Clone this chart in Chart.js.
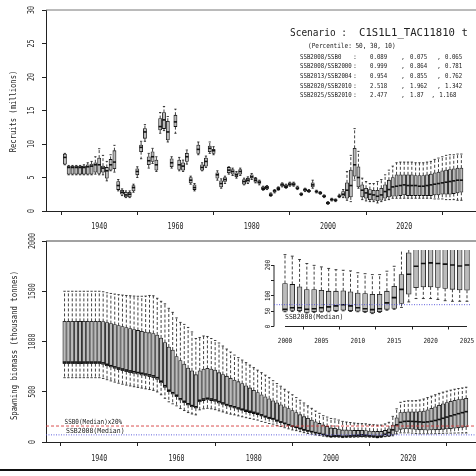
<!DOCTYPE html>
<html><head><meta charset="utf-8">
<script src="https://cdn.jsdelivr.net/npm/chart.js"></script>
<style>
html,body{margin:0;padding:0;background:#fff;overflow:hidden}
#wrap{position:relative;width:476px;height:476px;overflow:hidden;background:#fff}
canvas{position:absolute;display:block}
#bline{position:absolute;left:0;top:469px;width:476px;height:2px;background:#111}
</style></head><body>
<div id="wrap">
<canvas id="top" width="480" height="236" style="left:0;top:0;width:480px;height:236px"></canvas>
<canvas id="bot" width="480" height="236" style="left:0;top:230px;width:480px;height:236px"></canvas>
<canvas id="ins" width="236" height="110" style="left:244px;top:244px;width:236px;height:110px"></canvas>
<div id="bline"></div>
</div>
<script>
// ---------------- data ----------------
const years = [
1931,1932,1933,1934,1935,1936,1937,1938,1939,1940,
1941,1942,1943,1944,1945,1946,1947,1948,1949,1950,
1951,1952,1953,1954,1955,1956,1957,1958,1959,1960,
1961,1962,1963,1964,1965,1966,1967,1968,1969,1970,
1971,1972,1973,1974,1975,1976,1977,1978,1979,1980,
1981,1982,1983,1984,1985,1986,1987,1988,1989,1990,
1991,1992,1993,1994,1995,1996,1997,1998,1999,2000,
2001,2002,2003,2004,2005,2006,2007,2008,2009,2010,
2011,2012,2013,2014,2015,2016,2017,2018,2019,2020,
2021,2022,2023,2024,2025,2026,2027,2028,2029,2030,
2031,2032,2033,2034,2035];

// Recruits (millions): whisker low, box low, median, box high, whisker high
const recMin = [
6.9,5.4,5.4,5.4,5.4,5.4,5.4,5.4,5.5,5.4,
5.4,4.5,6.0,5.8,3.0,2.3,2.0,2.0,2.8,5.0,
7.8,10.4,6.4,7.1,5.9,11.6,12.0,10.3,6.4,11.6,
6.0,5.9,7.0,4.0,3.0,8.4,6.0,6.5,8.6,8.4,
4.6,3.4,4.1,5.5,5.3,4.9,5.3,3.9,4.1,4.7,
4.2,3.9,3.1,3.2,2.2,2.7,3.1,3.6,3.4,3.7,
3.7,3.2,2.3,2.9,2.8,3.4,2.7,2.5,2.0,1.0,
1.5,1.4,2.0,2.0,1.6,1.4,4.6,3.4,1.7,1.5,
1.4,1.4,1.2,1.4,1.6,1.7,1.9,1.9,1.9,1.9,
1.9,1.9,1.9,1.9,1.9,1.9,1.9,1.8,1.8,1.8,
1.7,1.7,1.7,1.6,1.6];
const recQ1 = [
7.0,5.5,5.5,5.5,5.5,5.5,5.5,5.5,5.8,5.6,
5.8,4.9,6.1,6.3,3.2,2.5,2.1,2.1,3.0,5.4,
8.85,10.85,6.9,7.4,6.1,12.1,12.3,10.6,6.6,12.6,
6.2,6.1,7.4,4.2,3.2,8.6,6.1,6.7,8.85,8.6,
4.9,3.6,4.4,5.7,5.5,5.1,5.5,4.0,4.3,4.9,
4.3,4.1,3.2,3.3,2.3,2.8,3.2,3.7,3.5,3.8,
3.8,3.3,2.4,3.0,2.9,3.6,2.8,2.6,2.1,1.1,
1.6,1.5,2.1,2.2,1.9,2.1,5.2,3.6,2.1,1.9,
1.7,1.6,1.5,1.6,1.9,2.1,2.2,2.2,2.3,2.4,
2.3,2.3,2.3,2.3,2.3,2.3,2.3,2.4,2.4,2.5,
2.5,2.5,2.6,2.7,2.8];
const recMed = [
8.0,6.5,6.5,6.5,6.5,6.5,6.6,6.7,6.9,6.9,
6.4,6.0,6.9,7.3,3.8,2.8,2.4,2.5,3.5,5.9,
9.5,11.8,7.5,8.1,6.9,12.6,13.6,11.8,7.2,13.3,
6.9,6.7,8.1,4.6,3.5,9.2,6.5,7.4,9.35,9.0,
5.4,4.1,4.7,6.1,5.9,5.4,5.9,4.4,4.6,5.1,
4.6,4.3,3.4,3.5,2.4,3.0,3.4,3.9,3.7,4.0,
4.0,3.4,2.5,3.2,3.0,3.9,2.9,2.7,2.2,1.2,
1.7,1.6,2.2,2.5,3.1,3.8,6.9,5.0,3.1,2.7,
2.5,2.4,2.2,2.4,2.9,3.2,3.6,3.7,3.8,3.9,
3.8,3.8,3.8,3.7,3.7,3.8,3.9,4.0,4.1,4.2,
4.3,4.4,4.5,4.6,4.6];
const recQ3 = [
8.5,6.7,6.7,6.7,6.7,6.7,6.9,7.0,7.2,7.9,
6.7,6.5,7.7,9.0,4.4,3.1,2.8,2.8,3.8,6.3,
9.85,12.3,8.1,8.85,7.6,13.8,14.7,13.4,7.8,14.3,
7.6,7.2,8.6,5.0,3.9,9.85,6.9,7.9,9.7,9.2,
5.7,4.5,5.0,6.5,6.2,5.7,6.2,4.7,4.9,5.4,
4.9,4.5,3.6,3.7,2.6,3.1,3.5,4.1,3.9,4.2,
4.2,3.6,2.6,3.3,3.1,4.2,3.0,2.8,2.3,1.3,
1.8,1.7,2.3,2.9,4.2,6.1,9.35,6.6,3.9,3.4,
3.2,3.1,3.1,3.4,3.9,4.6,5.0,5.4,5.4,5.4,
5.4,5.4,5.3,5.3,5.3,5.4,5.5,5.7,5.8,6.0,
6.1,6.2,6.3,6.4,6.4];
const recMax = [
8.6,6.8,6.8,6.8,6.8,6.9,7.2,7.4,8.1,9.3,
8.3,7.4,8.4,9.8,4.7,3.3,3.0,3.0,4.0,6.6,
10.4,12.9,8.6,9.35,8.1,14.7,15.6,14.1,8.1,15.2,
8.0,7.6,9.1,5.2,4.1,10.3,7.2,8.2,10.3,9.6,
6.0,4.8,5.2,6.6,6.4,5.9,6.4,4.9,5.1,5.6,
5.0,4.6,3.7,3.8,2.7,3.2,3.6,4.2,4.0,4.3,
4.3,3.7,2.7,3.4,3.2,4.6,3.1,2.9,2.4,1.4,
1.9,1.8,2.5,3.2,5.9,8.3,12.3,8.9,4.9,4.4,
4.1,4.1,4.4,4.7,5.4,6.1,6.7,7.2,7.3,7.3,
7.3,7.3,7.2,7.2,7.2,7.3,7.4,7.7,7.9,8.1,
8.3,8.4,8.4,8.5,8.5];

// Spawning biomass (thousand tonnes)
const ssbMin = [
640,640,640,640,640,640,640,640,640,640,
632,620,608,596,585,575,566,558,550,543,
536,529,522,514,498,470,435,400,380,360,
333,313,293,279,270,320,330,335,330,322,
310,299,287,277,270,260,251,242,234,226,
218,205,195,184,178,165,154,142,131,120,
113,103,93,85,78,70,64,58,52,48,
49,48,44,46,47,48,49,51,49,48,
46,42,46,53,56,62,80,91,91,91,
88,84,82,82,82,82,83,85,86,88,
88,89,90,90,90];
const ssbQ1 = [
780,780,780,780,780,780,780,780,780,780,
772,758,744,732,720,710,700,690,682,674,
666,658,650,640,622,588,544,500,475,450,
416,391,366,349,337,400,412,419,412,403,
387,374,358,346,337,325,314,303,293,283,
273,258,245,232,224,206,193,178,164,150,
140,128,116,106,97,88,80,70,58,50,
52,51,46,48,49,50,51,53,51,50,
48,44,48,56,59,75,105,126,129,129,
127,124,121,119,118,119,121,123,126,129,
133,137,141,146,150];
const ssbMed = [
795,795,795,795,795,795,795,795,795,795,
787,773,759,747,736,726,716,707,699,691,
684,676,668,658,640,605,560,515,490,465,
430,405,380,362,350,415,428,435,428,418,
402,388,372,360,350,338,326,315,305,295,
285,270,255,242,232,215,200,186,172,158,
147,135,122,112,103,93,85,75,63,56,
61,61,56,58,61,64,67,71,67,61,
58,55,58,77,94,121,170,196,205,207,
205,203,200,197,200,206,214,224,236,248,
260,271,282,292,302];
const ssbQ3 = [
1200,1200,1200,1200,1200,1200,1200,1200,1200,1200,
1198,1188,1178,1168,1158,1148,1138,1128,1119,1110,
1102,1094,1088,1080,1065,1035,990,945,915,850,
810,775,735,708,670,708,725,733,725,715,
690,672,655,635,617,600,582,560,538,515,
492,470,450,430,410,390,370,350,332,312,
292,272,252,235,218,200,185,170,155,140,
137,129,120,120,118,115,115,116,113,109,
107,105,105,115,131,169,240,292,298,300,
300,300,302,308,320,335,350,365,380,393,
404,414,422,428,435];
const ssbMax = [
1500,1500,1500,1500,1500,1500,1500,1500,1500,1500,
1495,1485,1478,1472,1466,1462,1458,1455,1452,1450,
1450,1452,1458,1455,1430,1400,1375,1330,1290,1235,
1190,1170,1140,1095,1030,1040,1055,1050,1030,1010,
985,955,925,895,865,840,815,790,765,740,
715,690,665,640,610,582,555,525,498,470,
442,415,388,360,335,308,285,262,248,234,
229,218,205,199,194,189,185,183,181,175,
172,169,169,180,196,255,330,395,405,410,
410,412,418,428,442,456,470,484,496,506,
516,525,532,538,545];

// axes ticks
const mainTicksX = [1940,1960,1980,2000,2020];
const recTicksY = [0,5,10,15,20,25,30];
const ssbTicksY = [0,500,1000,1500,2000];
const insTicksX = [2000,2005,2010,2015,2020,2025];
const insTicksY = [0,50,100,150,200];
const insLabelsY = ['0','50','100','','200'];
const insetFirst = 2000, insetLast = 2025;
const refYear = 2008;           // SSB2008 (median) reference
const refFrac = 0.2;            // SSB0 (median) x 20%

// scenario / ratio text
const scenarioName = 'C1S1L1_TAC11810 t';
const ratioNames = ['SSB2008/SSB0','SSB2008/SSB2000','SSB2013/SSB2004','SSB2020/SSB2010','SSB2025/SSB2010'];
const ratioP50 = ['0.089','0.999','0.954','2.518','2.477'];
const ratioP30 = ['0.075','0.864','0.855','1.962','1.87'];
const ratioP10 = ['0.065','0.781','0.762','1.342','1.168'];

// ---------------- helpers ----------------
const MONO = '"DejaVu Sans Mono","Liberation Mono",monospace';
function txt(ctx, s, x, y, size, adv, align, rot, color, baseline) {
  ctx.save();
  ctx.font = size + 'px ' + MONO;
  ctx.fillStyle = color || '#222';
  ctx.textAlign = align || 'left';
  ctx.textBaseline = baseline || 'middle';
  ctx.translate(x, y);
  if (rot) ctx.rotate(rot);
  ctx.scale(adv / (0.6021 * size), 1);
  ctx.fillText(s, 0, 0);
  ctx.restore();
}

function boxPlugin(d) {
  return {
    id: 'boxes_' + d.id,
    afterDatasetsDraw(chart) {
      const {ctx, chartArea: a, scales: {x, y}} = chart;
      ctx.save();
      ctx.beginPath(); ctx.rect(a.left, a.top, a.right - a.left, a.bottom - a.top); ctx.clip();
      ctx.strokeStyle = '#111';
      d.years.forEach((yr, i) => {
        const px = x.getPixelForValue(yr);
        const pMin = y.getPixelForValue(d.min[i]), pQ1 = y.getPixelForValue(d.q1[i]);
        const pMed = y.getPixelForValue(d.med[i]), pQ3 = y.getPixelForValue(d.q3[i]);
        const pMax = y.getPixelForValue(d.max[i]);
        ctx.lineWidth = d.wl;
        ctx.setLineDash(d.dash);
        ctx.beginPath();
        ctx.moveTo(px, pQ3); ctx.lineTo(px, pMax);
        ctx.moveTo(px, pQ1); ctx.lineTo(px, pMin);
        ctx.stroke();
        ctx.setLineDash([]);
        const sw = d.boxW * d.staple / 2;
        ctx.beginPath();
        ctx.moveTo(px - sw, pMax); ctx.lineTo(px + sw, pMax);
        ctx.moveTo(px - sw, pMin); ctx.lineTo(px + sw, pMin);
        ctx.stroke();
        ctx.lineWidth = d.medW;
        ctx.beginPath();
        ctx.moveTo(px - d.boxW / 2, pMed); ctx.lineTo(px + d.boxW / 2, pMed);
        ctx.stroke();
      });
      ctx.restore();
    }
  };
}

function makeChart(id, d, extra) {
  const ds = {
    data: d.years.map((yr, i) => ({x: yr, y: [d.q1[i], d.q3[i]]})),
    backgroundColor: '#bcbcbc',
    borderColor: '#111',
    borderWidth: d.bw,
    borderSkipped: false,
    barThickness: d.boxW,
    clip: 0
  };
  const axisCommon = (tl) => ({
    grid: {display: true, drawOnChartArea: false, drawTicks: true, tickLength: tl, color: '#222', lineWidth: 1},
    border: {display: d.borders, color: '#222', width: 1},
    ticks: {display: false}
  });
  return new Chart(document.getElementById(id), {
    type: 'bar',
    data: {datasets: [ds]},
    options: {
      responsive: false, animation: false, events: [], devicePixelRatio: 1,
      layout: {padding: d.pad},
      plugins: {legend: {display: false}, tooltip: {enabled: false}, title: {display: false}},
      scales: {
        x: Object.assign(axisCommon(d.tl), {
          type: 'linear', min: d.xmin, max: d.xmax, offset: false,
          afterBuildTicks: s => { s.ticks = d.xticks.map(v => ({value: v})); },
          afterFit: s => { s.height = d.xh; }
        }),
        y: Object.assign(axisCommon(d.tl), {
          type: 'linear', min: d.ymin, max: d.ymax,
          afterBuildTicks: s => { s.ticks = d.yticks.map(v => ({value: v})); },
          afterFit: s => { s.width = d.yw; }
        })
      }
    },
    plugins: [boxPlugin(d), extra]
  });
}

function topLine(ctx, a, col) {
  ctx.save();
  ctx.strokeStyle = col; ctx.lineWidth = 1;
  ctx.beginPath(); ctx.moveTo(a.left, a.top); ctx.lineTo(a.right + 5, a.top); ctx.stroke();
  ctx.restore();
}

// ---------------- top panel: recruits ----------------
makeChart('top', {
  id: 'rec', years, min: recMin, q1: recQ1, med: recMed, q3: recQ3, max: recMax,
  boxW: 3.2, bw: 0.8, wl: 0.8, medW: 1.6, staple: 0.7, dash: [3, 2],
  xmin: 1926.05, xmax: 2039.1, ymin: 0, ymax: 30,
  xticks: mainTicksX, yticks: recTicksY,
  pad: {top: 10, right: 3, left: 0, bottom: 0}, xh: 25, yw: 46, tl: 4, borders: true
}, {
  id: 'recText',
  afterDraw(chart) {
    const {ctx, chartArea: a, scales: {x, y}} = chart;
    topLine(ctx, a, '#777');
    mainTicksX.forEach(v => txt(ctx, String(v), x.getPixelForValue(v), a.bottom + 16, 8, 4, 'center'));
    recTicksY.forEach(v => txt(ctx, String(v), a.left - 13.7, y.getPixelForValue(v), 8, 4, 'center', -Math.PI / 2));
    txt(ctx, 'Recruits (millions)', a.left - 32.5, (a.top + a.bottom) / 2 + 1, 8.4, 4.3, 'center', -Math.PI / 2);
    // scenario block
    txt(ctx, 'Scenario :', 290, 33.5, 11, 5.7, 'left');
    txt(ctx, scenarioName, 359, 33.5, 11, 6.4, 'left');
    txt(ctx, '(Percentile: 50, 30, 10)', 308, 46.5, 7, 3.65, 'left');
    ratioNames.forEach((nm, i) => {
      const yy = 57 + i * 9.6;
      txt(ctx, nm, 300, yy, 6.8, 3.45, 'left');
      txt(ctx, ':', 355, yy, 6.8, 3.45, 'center');
      txt(ctx, ratioP50[i], 370, yy, 6.8, 3.45, 'left');
      txt(ctx, ',', 403, yy, 6.8, 3.45, 'center');
      txt(ctx, ratioP30[i], 410, yy, 6.8, 3.45, 'left');
      const c2 = 410 + ratioP30[i].length * 5.8;
      txt(ctx, ',', c2, yy, 6.8, 3.45, 'center');
      txt(ctx, ratioP10[i], c2 + 6, yy, 6.8, 3.45, 'left');
    });
  }
});

// ---------------- bottom panel: SSB ----------------
const refIdx = years.indexOf(refYear);
const ssbRef2008 = ssbMed[refIdx];
const ssbRef0 = ssbMed[0] * refFrac;

function refLine(ctx, a, py, color, dash, w) {
  ctx.save();
  ctx.strokeStyle = color; ctx.lineWidth = w; ctx.setLineDash(dash);
  ctx.beginPath(); ctx.moveTo(a.left, py); ctx.lineTo(a.right, py); ctx.stroke();
  ctx.restore();
}

makeChart('bot', {
  id: 'ssb', years, min: ssbMin, q1: ssbQ1, med: ssbMed, q3: ssbQ3, max: ssbMax,
  boxW: 3.4, bw: 0.8, wl: 0.8, medW: 1.6, staple: 0.7, dash: [3, 2],
  xmin: 1926.2, xmax: 2037.8, ymin: 0, ymax: 2000,
  xticks: mainTicksX, yticks: ssbTicksY,
  pad: {top: 11, right: 3, left: 0, bottom: 0}, xh: 24, yw: 46, tl: 4, borders: true
}, {
  id: 'ssbText',
  afterDraw(chart) {
    const {ctx, chartArea: a, scales: {x, y}} = chart;
    topLine(ctx, a, '#444');
    const pr = y.getPixelForValue(ssbRef0), pb = y.getPixelForValue(ssbRef2008);
    refLine(ctx, a, pr, 'rgba(215,60,60,0.9)', [3, 2], 1);
    refLine(ctx, a, pb, 'rgba(80,80,220,0.9)', [1, 1.5], 1);
    const lx = x.getPixelForValue(years[0]);
    txt(ctx, 'SSB0(Median)x20%', lx, pr - 4, 7, 3.6, 'left');
    txt(ctx, 'SSB2008(Median)', lx + 1.5, pb - 3.5, 7, 3.9, 'left');
    mainTicksX.forEach(v => txt(ctx, String(v), x.getPixelForValue(v), a.bottom + 17, 8, 4, 'center'));
    ssbTicksY.forEach(v => txt(ctx, String(v), a.left - 12.7, y.getPixelForValue(v), 8, 4, 'center', -Math.PI / 2));
    txt(ctx, 'Spawning biomass (thousand tonnes)', a.left - 31, (a.top + a.bottom) / 2 + 4, 8.4, 4.4, 'center', -Math.PI / 2);
  }
});

// ---------------- inset: recent SSB ----------------
const i0 = years.indexOf(insetFirst), i1 = years.indexOf(insetLast) + 1;
makeChart('ins', {
  id: 'ins', years: years.slice(i0, i1),
  min: ssbMin.slice(i0, i1), q1: ssbQ1.slice(i0, i1), med: ssbMed.slice(i0, i1),
  q3: ssbQ3.slice(i0, i1), max: ssbMax.slice(i0, i1),
  boxW: 4.8, bw: 0.8, wl: 0.8, medW: 1.6, staple: 0.6, dash: [3, 2],
  xmin: 1998.49, xmax: 2025.55, ymin: 0, ymax: 249,
  xticks: insTicksX, yticks: insTicksY,
  pad: {top: 6, right: 9, left: 0, bottom: 0}, xh: 27.5, yw: 30, tl: 3, borders: false
}, {
  id: 'insText',
  afterDraw(chart) {
    const {ctx, chartArea: a, scales: {x, y}} = chart;
    ctx.save();
    ctx.strokeStyle = '#222'; ctx.lineWidth = 1;
    ctx.beginPath();
    ctx.moveTo(a.left, y.getPixelForValue(insTicksY[0])); ctx.lineTo(a.left, y.getPixelForValue(insTicksY[insTicksY.length - 1]));
    ctx.moveTo(x.getPixelForValue(insTicksX[0]), a.bottom); ctx.lineTo(x.getPixelForValue(insTicksX[insTicksX.length - 1]), a.bottom);
    ctx.stroke();
    ctx.restore();
    const pb = y.getPixelForValue(ssbRef2008);
    refLine(ctx, a, pb, 'rgba(80,80,220,0.9)', [1, 1.5], 1);
    txt(ctx, 'SSB2008(Median)', x.getPixelForValue(insetFirst), pb + 12.5, 7, 3.9, 'left');
    insTicksX.forEach(v => txt(ctx, String(v), x.getPixelForValue(v), a.bottom + 15, 7, 3.6, 'center'));
    insTicksY.forEach((v, k) => { if (insLabelsY[k]) txt(ctx, insLabelsY[k], a.left - 6, y.getPixelForValue(v), 7, 3.4, 'center', -Math.PI / 2); });
  }
});
</script>
</body></html>
